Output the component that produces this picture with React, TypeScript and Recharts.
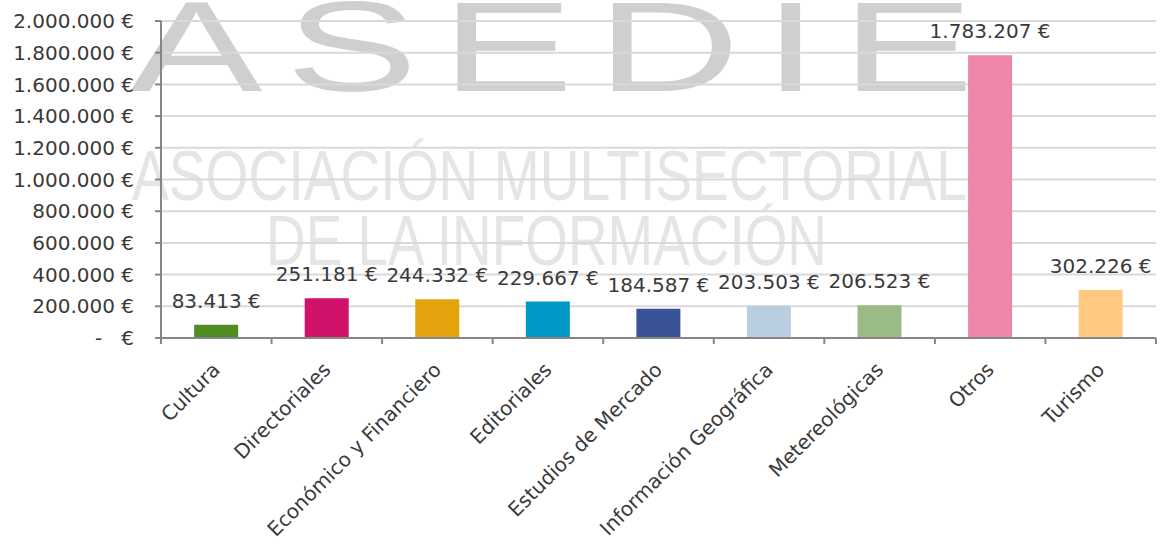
import React from 'react';
import { BarChart, Bar, XAxis, YAxis, CartesianGrid, LabelList, Cell } from 'recharts';

const categories = [
  'Cultura',
  'Directoriales',
  'Económico y Financiero',
  'Editoriales',
  'Estudios de Mercado',
  'Información Geográfica',
  'Metereológicas',
  'Otros',
  'Turismo',
];
const values = [83413, 251181, 244332, 229667, 184587, 203503, 206523, 1783207, 302226];
const barColors = ['#4f8c22', '#d0126b', '#e3a30c', '#0099c6', '#3a5296', '#b9cfe1', '#9bbb86', '#ee86a8', '#ffc982'];
const yTicks = [0, 200000, 400000, 600000, 800000, 1000000, 1200000, 1400000, 1600000, 1800000, 2000000];

const data = categories.map((name, i) => ({ name, value: values[i] }));

const FONT = '"DejaVu Sans", "Open Sans", sans-serif';
const TEXT = '#3a3a3a';
const AXIS = '#868686';

const fmt = (v: number) =>
  v === 0 ? '-\u00a0\u00a0\u00a0€' : String(v).replace(/\B(?=(\d{3})+(?!\d))/g, '.') + '\u00a0€';

const XTick = (props: any) => {
  const { x, y, payload, index } = props;
  const half = payload && typeof payload.offset === 'number' && payload.offset > 0 ? payload.offset : (1156 - 161) / 18;
  return (
    <g>
      <line x1={x - half} y1={y} x2={x - half} y2={y + 6} stroke={AXIS} strokeWidth={2} />
      {index === categories.length - 1 && (
        <line x1={x + half} y1={y} x2={x + half} y2={y + 6} stroke={AXIS} strokeWidth={2} />
      )}
      <text
        transform={`translate(${x + 5},${y + 33}) rotate(-45)`}
        textAnchor="end"
        fontSize={20}
        fontFamily={FONT}
        fill={TEXT}
      >
        {payload.value}
      </text>
    </g>
  );
};

const Watermark = () => (
  <svg width={1164} height={546} style={{ position: 'absolute', left: 0, top: 0 }}>
    <text
      transform="translate(130,91) scale(1.55,1)"
      fontSize={128}
      letterSpacing={15}
      fontFamily='"Liberation Sans", sans-serif'
      fill="#cfcfcf"
    >
      ASEDIE
    </text>
    <text x={132} y={200} fontSize={70} fontFamily='"Liberation Sans", sans-serif' fill="#e5e5e5" textLength={835} lengthAdjust="spacingAndGlyphs">
      ASOCIACIÓN MULTISECTORIAL
    </text>
    <text x={266} y={265} fontSize={71} fontFamily='"Liberation Sans", sans-serif' fill="#e5e5e5" textLength={561} lengthAdjust="spacingAndGlyphs">
      DE LA INFORMACIÓN
    </text>
  </svg>
);

export default function App() {
  return (
    <div style={{ position: 'absolute', left: 0, top: 0, width: 1164, height: 546, background: '#ffffff', overflow: 'hidden' }}>
      <Watermark />
      <div style={{ position: 'absolute', left: 0, top: 0 }}>
        <BarChart
          width={1164}
          height={546}
          data={data}
          margin={{ top: 21, right: 8, bottom: 8, left: 0 }}
          barCategoryGap="30%"
        >
          <CartesianGrid vertical={false} stroke="#d9d9d9" strokeWidth={2} />
          <XAxis
            dataKey="name"
            height={200}
            interval={0}
            tickSize={0}
            tickMargin={0}
            tickLine={false}
            axisLine={{ stroke: AXIS, strokeWidth: 2 }}
            tick={<XTick />}
          />
          <YAxis
            width={161}
            domain={[0, 2000000]}
            ticks={yTicks}
            interval={0}
            tickFormatter={fmt}
            tickSize={6}
            tickMargin={21}
            tickLine={{ stroke: AXIS, strokeWidth: 2 }}
            axisLine={{ stroke: AXIS, strokeWidth: 2 }}
            tick={{ fontSize: 20, fontFamily: FONT, fill: TEXT }}
          />
          <Bar dataKey="value" isAnimationActive={false}>
            {data.map((d, i) => (
              <Cell key={d.name} fill={barColors[i]} />
            ))}
            <LabelList
              dataKey="value"
              position="top"
              offset={17}
              formatter={(v: any) => fmt(Number(v))}
              style={{ fontSize: 20, fontFamily: FONT, fill: TEXT }}
            />
          </Bar>
        </BarChart>
      </div>
    </div>
  );
}
